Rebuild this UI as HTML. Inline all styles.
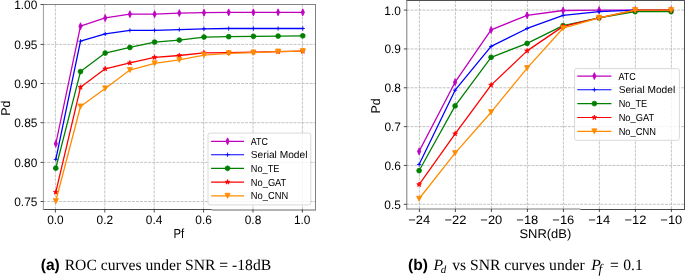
<!DOCTYPE html>
<html><head><meta charset="utf-8"><style>
html,body{margin:0;padding:0;background:#fff;}
body{width:685px;height:276px;overflow:hidden;}
svg{display:block;font-family:"Liberation Sans",sans-serif;text-rendering:geometricPrecision;}
</style></head><body>
<svg width="685" height="276" viewBox="0 0 685 276">
<rect width="685" height="276" fill="#fff"/>
<line x1="55.40" y1="209.50" x2="55.40" y2="4.50" stroke="#b0b0b0" stroke-width="0.75" stroke-dasharray="2.95 1.09"/>
<line x1="104.80" y1="209.50" x2="104.80" y2="4.50" stroke="#b0b0b0" stroke-width="0.75" stroke-dasharray="2.95 1.09"/>
<line x1="154.20" y1="209.50" x2="154.20" y2="4.50" stroke="#b0b0b0" stroke-width="0.75" stroke-dasharray="2.95 1.09"/>
<line x1="203.60" y1="209.50" x2="203.60" y2="4.50" stroke="#b0b0b0" stroke-width="0.75" stroke-dasharray="2.95 1.09"/>
<line x1="253.00" y1="209.50" x2="253.00" y2="4.50" stroke="#b0b0b0" stroke-width="0.75" stroke-dasharray="2.95 1.09"/>
<line x1="302.40" y1="209.50" x2="302.40" y2="4.50" stroke="#b0b0b0" stroke-width="0.75" stroke-dasharray="2.95 1.09"/>
<line x1="43.50" y1="201.50" x2="315.50" y2="201.50" stroke="#b0b0b0" stroke-width="0.75" stroke-dasharray="2.95 1.09" stroke-dashoffset="0.4"/>
<line x1="43.50" y1="162.40" x2="315.50" y2="162.40" stroke="#b0b0b0" stroke-width="0.75" stroke-dasharray="2.95 1.09" stroke-dashoffset="0.4"/>
<line x1="43.50" y1="122.70" x2="315.50" y2="122.70" stroke="#b0b0b0" stroke-width="0.75" stroke-dasharray="2.95 1.09" stroke-dashoffset="0.4"/>
<line x1="43.50" y1="83.50" x2="315.50" y2="83.50" stroke="#b0b0b0" stroke-width="0.75" stroke-dasharray="2.95 1.09" stroke-dashoffset="0.4"/>
<line x1="43.50" y1="44.40" x2="315.50" y2="44.40" stroke="#b0b0b0" stroke-width="0.75" stroke-dasharray="2.95 1.09" stroke-dashoffset="0.4"/>
<clipPath id="cl"><rect x="43.5" y="4.5" width="272.0" height="205.0"/></clipPath>
<g clip-path="url(#cl)">
<polyline points="55.80,143.80 80.50,26.21 105.20,17.97 129.90,14.20 154.60,14.20 179.30,13.10 204.00,12.71 228.70,12.39 253.40,12.39 278.10,12.31 302.80,12.31" fill="none" stroke="#bf00bf" stroke-width="1.3" stroke-linejoin="round" stroke-linecap="square"/>
<path d="M55.80 140.30L57.40 143.80L55.80 147.30L54.20 143.80Z" fill="#bf00bf" stroke="#bf00bf" stroke-width="0.8"/>
<path d="M80.50 22.71L82.10 26.21L80.50 29.71L78.90 26.21Z" fill="#bf00bf" stroke="#bf00bf" stroke-width="0.8"/>
<path d="M105.20 14.47L106.80 17.97L105.20 21.47L103.60 17.97Z" fill="#bf00bf" stroke="#bf00bf" stroke-width="0.8"/>
<path d="M129.90 10.70L131.50 14.20L129.90 17.70L128.30 14.20Z" fill="#bf00bf" stroke="#bf00bf" stroke-width="0.8"/>
<path d="M154.60 10.70L156.20 14.20L154.60 17.70L153.00 14.20Z" fill="#bf00bf" stroke="#bf00bf" stroke-width="0.8"/>
<path d="M179.30 9.60L180.90 13.10L179.30 16.60L177.70 13.10Z" fill="#bf00bf" stroke="#bf00bf" stroke-width="0.8"/>
<path d="M204.00 9.21L205.60 12.71L204.00 16.21L202.40 12.71Z" fill="#bf00bf" stroke="#bf00bf" stroke-width="0.8"/>
<path d="M228.70 8.89L230.30 12.39L228.70 15.89L227.10 12.39Z" fill="#bf00bf" stroke="#bf00bf" stroke-width="0.8"/>
<path d="M253.40 8.89L255.00 12.39L253.40 15.89L251.80 12.39Z" fill="#bf00bf" stroke="#bf00bf" stroke-width="0.8"/>
<path d="M278.10 8.81L279.70 12.31L278.10 15.81L276.50 12.31Z" fill="#bf00bf" stroke="#bf00bf" stroke-width="0.8"/>
<path d="M302.80 8.81L304.40 12.31L302.80 15.81L301.20 12.31Z" fill="#bf00bf" stroke="#bf00bf" stroke-width="0.8"/>
<polyline points="55.80,159.42 80.50,41.20 105.20,33.90 129.90,30.37 154.60,30.37 179.30,29.58 204.00,28.80 228.70,28.49 253.40,28.49 278.10,28.49 302.80,28.49" fill="none" stroke="#0000ff" stroke-width="1.3" stroke-linejoin="round" stroke-linecap="square"/>
<path d="M53.70 159.42H57.90M55.80 157.32V161.52" stroke="#0000ff" stroke-width="0.9" fill="none"/>
<path d="M78.40 41.20H82.60M80.50 39.10V43.30" stroke="#0000ff" stroke-width="0.9" fill="none"/>
<path d="M103.10 33.90H107.30M105.20 31.80V36.00" stroke="#0000ff" stroke-width="0.9" fill="none"/>
<path d="M127.80 30.37H132.00M129.90 28.27V32.47" stroke="#0000ff" stroke-width="0.9" fill="none"/>
<path d="M152.50 30.37H156.70M154.60 28.27V32.47" stroke="#0000ff" stroke-width="0.9" fill="none"/>
<path d="M177.20 29.58H181.40M179.30 27.48V31.68" stroke="#0000ff" stroke-width="0.9" fill="none"/>
<path d="M201.90 28.80H206.10M204.00 26.70V30.90" stroke="#0000ff" stroke-width="0.9" fill="none"/>
<path d="M226.60 28.49H230.80M228.70 26.39V30.59" stroke="#0000ff" stroke-width="0.9" fill="none"/>
<path d="M251.30 28.49H255.50M253.40 26.39V30.59" stroke="#0000ff" stroke-width="0.9" fill="none"/>
<path d="M276.00 28.49H280.20M278.10 26.39V30.59" stroke="#0000ff" stroke-width="0.9" fill="none"/>
<path d="M300.70 28.49H304.90M302.80 26.39V30.59" stroke="#0000ff" stroke-width="0.9" fill="none"/>
<polyline points="55.80,168.14 80.50,71.58 105.20,53.06 129.90,47.48 154.60,42.07 179.30,40.10 204.00,37.04 228.70,36.65 253.40,36.34 278.10,36.10 302.80,35.79" fill="none" stroke="#008000" stroke-width="1.3" stroke-linejoin="round" stroke-linecap="square"/>
<circle cx="55.80" cy="168.14" r="2.4" fill="#008000" stroke="#008000" stroke-width="0.8"/>
<circle cx="80.50" cy="71.58" r="2.4" fill="#008000" stroke="#008000" stroke-width="0.8"/>
<circle cx="105.20" cy="53.06" r="2.4" fill="#008000" stroke="#008000" stroke-width="0.8"/>
<circle cx="129.90" cy="47.48" r="2.4" fill="#008000" stroke="#008000" stroke-width="0.8"/>
<circle cx="154.60" cy="42.07" r="2.4" fill="#008000" stroke="#008000" stroke-width="0.8"/>
<circle cx="179.30" cy="40.10" r="2.4" fill="#008000" stroke="#008000" stroke-width="0.8"/>
<circle cx="204.00" cy="37.04" r="2.4" fill="#008000" stroke="#008000" stroke-width="0.8"/>
<circle cx="228.70" cy="36.65" r="2.4" fill="#008000" stroke="#008000" stroke-width="0.8"/>
<circle cx="253.40" cy="36.34" r="2.4" fill="#008000" stroke="#008000" stroke-width="0.8"/>
<circle cx="278.10" cy="36.10" r="2.4" fill="#008000" stroke="#008000" stroke-width="0.8"/>
<circle cx="302.80" cy="35.79" r="2.4" fill="#008000" stroke="#008000" stroke-width="0.8"/>
<polyline points="55.80,192.24 80.50,87.28 105.20,68.83 129.90,62.95 154.60,57.37 179.30,55.49 204.00,52.90 228.70,52.59 253.40,52.19 278.10,51.57 302.80,51.17" fill="none" stroke="#ff0000" stroke-width="1.3" stroke-linejoin="round" stroke-linecap="square"/>
<path d="M55.80 189.74L55.24 191.46L53.42 191.46L54.89 192.53L54.33 194.26L55.80 193.19L57.27 194.26L56.71 192.53L58.18 191.46L56.36 191.46Z" fill="#ff0000" stroke="#ff0000" stroke-width="0.8" stroke-linejoin="miter"/>
<path d="M80.50 84.78L79.94 86.51L78.12 86.51L79.59 87.58L79.03 89.31L80.50 88.24L81.97 89.31L81.41 87.58L82.88 86.51L81.06 86.51Z" fill="#ff0000" stroke="#ff0000" stroke-width="0.8" stroke-linejoin="miter"/>
<path d="M105.20 66.33L104.64 68.06L102.82 68.06L104.29 69.13L103.73 70.86L105.20 69.79L106.67 70.86L106.11 69.13L107.58 68.06L105.76 68.06Z" fill="#ff0000" stroke="#ff0000" stroke-width="0.8" stroke-linejoin="miter"/>
<path d="M129.90 60.45L129.34 62.17L127.52 62.17L128.99 63.24L128.43 64.97L129.90 63.90L131.37 64.97L130.81 63.24L132.28 62.17L130.46 62.17Z" fill="#ff0000" stroke="#ff0000" stroke-width="0.8" stroke-linejoin="miter"/>
<path d="M154.60 54.87L154.04 56.60L152.22 56.60L153.69 57.67L153.13 59.40L154.60 58.33L156.07 59.40L155.51 57.67L156.98 56.60L155.16 56.60Z" fill="#ff0000" stroke="#ff0000" stroke-width="0.8" stroke-linejoin="miter"/>
<path d="M179.30 52.99L178.74 54.72L176.92 54.72L178.39 55.79L177.83 57.51L179.30 56.44L180.77 57.51L180.21 55.79L181.68 54.72L179.86 54.72Z" fill="#ff0000" stroke="#ff0000" stroke-width="0.8" stroke-linejoin="miter"/>
<path d="M204.00 50.40L203.44 52.13L201.62 52.13L203.09 53.19L202.53 54.92L204.00 53.85L205.47 54.92L204.91 53.19L206.38 52.13L204.56 52.13Z" fill="#ff0000" stroke="#ff0000" stroke-width="0.8" stroke-linejoin="miter"/>
<path d="M228.70 50.09L228.14 51.81L226.32 51.81L227.79 52.88L227.23 54.61L228.70 53.54L230.17 54.61L229.61 52.88L231.08 51.81L229.26 51.81Z" fill="#ff0000" stroke="#ff0000" stroke-width="0.8" stroke-linejoin="miter"/>
<path d="M253.40 49.69L252.84 51.42L251.02 51.42L252.49 52.49L251.93 54.22L253.40 53.15L254.87 54.22L254.31 52.49L255.78 51.42L253.96 51.42Z" fill="#ff0000" stroke="#ff0000" stroke-width="0.8" stroke-linejoin="miter"/>
<path d="M278.10 49.07L277.54 50.79L275.72 50.79L277.19 51.86L276.63 53.59L278.10 52.52L279.57 53.59L279.01 51.86L280.48 50.79L278.66 50.79Z" fill="#ff0000" stroke="#ff0000" stroke-width="0.8" stroke-linejoin="miter"/>
<path d="M302.80 48.67L302.24 50.40L300.42 50.40L301.89 51.47L301.33 53.20L302.80 52.13L304.27 53.20L303.71 51.47L305.18 50.40L303.36 50.40Z" fill="#ff0000" stroke="#ff0000" stroke-width="0.8" stroke-linejoin="miter"/>
<polyline points="55.80,201.19 80.50,106.51 105.20,88.46 129.90,70.01 154.60,63.34 179.30,59.89 204.00,55.10 228.70,53.37 253.40,52.59 278.10,51.57 302.80,51.17" fill="none" stroke="#ff8c00" stroke-width="1.3" stroke-linejoin="round" stroke-linecap="square"/>
<path d="M55.80 203.74L53.25 198.64L58.35 198.64Z" fill="#ff8c00" stroke="#ff8c00" stroke-width="0.8" stroke-linejoin="miter"/>
<path d="M80.50 109.06L77.95 103.96L83.05 103.96Z" fill="#ff8c00" stroke="#ff8c00" stroke-width="0.8" stroke-linejoin="miter"/>
<path d="M105.20 91.01L102.65 85.91L107.75 85.91Z" fill="#ff8c00" stroke="#ff8c00" stroke-width="0.8" stroke-linejoin="miter"/>
<path d="M129.90 72.56L127.35 67.46L132.45 67.46Z" fill="#ff8c00" stroke="#ff8c00" stroke-width="0.8" stroke-linejoin="miter"/>
<path d="M154.60 65.89L152.05 60.79L157.15 60.79Z" fill="#ff8c00" stroke="#ff8c00" stroke-width="0.8" stroke-linejoin="miter"/>
<path d="M179.30 62.44L176.75 57.34L181.85 57.34Z" fill="#ff8c00" stroke="#ff8c00" stroke-width="0.8" stroke-linejoin="miter"/>
<path d="M204.00 57.65L201.45 52.55L206.55 52.55Z" fill="#ff8c00" stroke="#ff8c00" stroke-width="0.8" stroke-linejoin="miter"/>
<path d="M228.70 55.92L226.15 50.82L231.25 50.82Z" fill="#ff8c00" stroke="#ff8c00" stroke-width="0.8" stroke-linejoin="miter"/>
<path d="M253.40 55.14L250.85 50.04L255.95 50.04Z" fill="#ff8c00" stroke="#ff8c00" stroke-width="0.8" stroke-linejoin="miter"/>
<path d="M278.10 54.12L275.55 49.02L280.65 49.02Z" fill="#ff8c00" stroke="#ff8c00" stroke-width="0.8" stroke-linejoin="miter"/>
<path d="M302.80 53.72L300.25 48.62L305.35 48.62Z" fill="#ff8c00" stroke="#ff8c00" stroke-width="0.8" stroke-linejoin="miter"/>
</g>
<line x1="42.90" y1="4.5" x2="316.00" y2="4.5" stroke="#828282" stroke-width="1"/>
<line x1="42.90" y1="209.5" x2="211.70" y2="209.5" stroke="#4a4a4a" stroke-width="1"/>
<line x1="211.70" y1="210.0" x2="316.00" y2="210.0" stroke="#666666" stroke-width="1"/>
<line x1="43.4" y1="4.00" x2="43.4" y2="210.00" stroke="#9a9a9a" stroke-width="1"/>
<line x1="315.5" y1="4.00" x2="315.5" y2="210.00" stroke="#828282" stroke-width="1"/>
<line x1="55.40" y1="209.50" x2="55.40" y2="212.50" stroke="#222" stroke-width="0.8"/>
<line x1="104.80" y1="209.50" x2="104.80" y2="212.50" stroke="#222" stroke-width="0.8"/>
<line x1="154.20" y1="209.50" x2="154.20" y2="212.50" stroke="#222" stroke-width="0.8"/>
<line x1="203.60" y1="209.50" x2="203.60" y2="212.50" stroke="#222" stroke-width="0.8"/>
<line x1="253.00" y1="209.50" x2="253.00" y2="212.50" stroke="#222" stroke-width="0.8"/>
<line x1="302.40" y1="209.50" x2="302.40" y2="212.50" stroke="#222" stroke-width="0.8"/>
<line x1="40.50" y1="201.50" x2="43.50" y2="201.50" stroke="#222" stroke-width="0.8"/>
<line x1="40.50" y1="162.40" x2="43.50" y2="162.40" stroke="#222" stroke-width="0.8"/>
<line x1="40.50" y1="122.70" x2="43.50" y2="122.70" stroke="#222" stroke-width="0.8"/>
<line x1="40.50" y1="83.50" x2="43.50" y2="83.50" stroke="#222" stroke-width="0.8"/>
<line x1="40.50" y1="44.40" x2="43.50" y2="44.40" stroke="#222" stroke-width="0.8"/>
<line x1="40.50" y1="4.50" x2="43.50" y2="4.50" stroke="#222" stroke-width="0.8"/>
<rect x="208.00" y="133.10" width="102.80" height="71.80" rx="2" ry="2" fill="#fff" fill-opacity="0.8" stroke="#cccccc" stroke-width="0.75"/>
<line x1="211.10" y1="141.30" x2="244.00" y2="141.30" stroke="#bf00bf" stroke-width="1.15"/>
<path d="M227.55 137.80L229.15 141.30L227.55 144.80L225.95 141.30Z" fill="#bf00bf" stroke="#bf00bf" stroke-width="0.8"/>
<line x1="211.10" y1="154.70" x2="244.00" y2="154.70" stroke="#0000ff" stroke-width="1.15"/>
<path d="M225.45 154.70H229.65M227.55 152.60V156.80" stroke="#0000ff" stroke-width="0.9" fill="none"/>
<line x1="211.10" y1="168.30" x2="244.00" y2="168.30" stroke="#008000" stroke-width="1.15"/>
<circle cx="227.55" cy="168.30" r="2.4" fill="#008000" stroke="#008000" stroke-width="0.8"/>
<line x1="211.10" y1="182.10" x2="244.00" y2="182.10" stroke="#ff0000" stroke-width="1.15"/>
<path d="M227.55 179.60L226.99 181.33L225.17 181.33L226.64 182.40L226.08 184.12L227.55 183.05L229.02 184.12L228.46 182.40L229.93 181.33L228.11 181.33Z" fill="#ff0000" stroke="#ff0000" stroke-width="0.8" stroke-linejoin="miter"/>
<line x1="211.10" y1="195.80" x2="244.00" y2="195.80" stroke="#ff8c00" stroke-width="1.15"/>
<path d="M227.55 198.35L225.00 193.25L230.10 193.25Z" fill="#ff8c00" stroke="#ff8c00" stroke-width="0.8" stroke-linejoin="miter"/>
<line x1="419.40" y1="209.00" x2="419.40" y2="0.50" stroke="#b0b0b0" stroke-width="0.75" stroke-dasharray="2.95 1.09"/>
<line x1="455.40" y1="209.00" x2="455.40" y2="0.50" stroke="#b0b0b0" stroke-width="0.75" stroke-dasharray="2.95 1.09"/>
<line x1="491.40" y1="209.00" x2="491.40" y2="0.50" stroke="#b0b0b0" stroke-width="0.75" stroke-dasharray="2.95 1.09"/>
<line x1="527.40" y1="209.00" x2="527.40" y2="0.50" stroke="#b0b0b0" stroke-width="0.75" stroke-dasharray="2.95 1.09"/>
<line x1="563.40" y1="209.00" x2="563.40" y2="0.50" stroke="#b0b0b0" stroke-width="0.75" stroke-dasharray="2.95 1.09"/>
<line x1="599.40" y1="209.00" x2="599.40" y2="0.50" stroke="#b0b0b0" stroke-width="0.75" stroke-dasharray="2.95 1.09"/>
<line x1="635.40" y1="209.00" x2="635.40" y2="0.50" stroke="#b0b0b0" stroke-width="0.75" stroke-dasharray="2.95 1.09"/>
<line x1="671.40" y1="209.00" x2="671.40" y2="0.50" stroke="#b0b0b0" stroke-width="0.75" stroke-dasharray="2.95 1.09"/>
<line x1="406.80" y1="204.30" x2="684.50" y2="204.30" stroke="#b0b0b0" stroke-width="0.75" stroke-dasharray="2.95 1.09" stroke-dashoffset="0.4"/>
<line x1="406.80" y1="165.46" x2="684.50" y2="165.46" stroke="#b0b0b0" stroke-width="0.75" stroke-dasharray="2.95 1.09" stroke-dashoffset="0.4"/>
<line x1="406.80" y1="126.62" x2="684.50" y2="126.62" stroke="#b0b0b0" stroke-width="0.75" stroke-dasharray="2.95 1.09" stroke-dashoffset="0.4"/>
<line x1="406.80" y1="87.78" x2="684.50" y2="87.78" stroke="#b0b0b0" stroke-width="0.75" stroke-dasharray="2.95 1.09" stroke-dashoffset="0.4"/>
<line x1="406.80" y1="48.94" x2="684.50" y2="48.94" stroke="#b0b0b0" stroke-width="0.75" stroke-dasharray="2.95 1.09" stroke-dashoffset="0.4"/>
<line x1="406.80" y1="10.10" x2="684.50" y2="10.10" stroke="#b0b0b0" stroke-width="0.75" stroke-dasharray="2.95 1.09" stroke-dashoffset="0.4"/>
<clipPath id="cr"><rect x="406.8" y="0.5" width="277.7" height="208.5"/></clipPath>
<g clip-path="url(#cr)">
<polyline points="419.10,151.40 455.10,82.19 491.10,29.90 527.10,15.30 563.10,10.49 599.10,10.10 635.10,10.10 671.10,10.10" fill="none" stroke="#bf00bf" stroke-width="1.3" stroke-linejoin="round" stroke-linecap="square"/>
<path d="M419.10 147.90L420.70 151.40L419.10 154.90L417.50 151.40Z" fill="#bf00bf" stroke="#bf00bf" stroke-width="0.8"/>
<path d="M455.10 78.69L456.70 82.19L455.10 85.69L453.50 82.19Z" fill="#bf00bf" stroke="#bf00bf" stroke-width="0.8"/>
<path d="M491.10 26.40L492.70 29.90L491.10 33.40L489.50 29.90Z" fill="#bf00bf" stroke="#bf00bf" stroke-width="0.8"/>
<path d="M527.10 11.80L528.70 15.30L527.10 18.80L525.50 15.30Z" fill="#bf00bf" stroke="#bf00bf" stroke-width="0.8"/>
<path d="M563.10 6.99L564.70 10.49L563.10 13.99L561.50 10.49Z" fill="#bf00bf" stroke="#bf00bf" stroke-width="0.8"/>
<path d="M599.10 6.60L600.70 10.10L599.10 13.60L597.50 10.10Z" fill="#bf00bf" stroke="#bf00bf" stroke-width="0.8"/>
<path d="M635.10 6.60L636.70 10.10L635.10 13.60L633.50 10.10Z" fill="#bf00bf" stroke="#bf00bf" stroke-width="0.8"/>
<path d="M671.10 6.60L672.70 10.10L671.10 13.60L669.50 10.10Z" fill="#bf00bf" stroke="#bf00bf" stroke-width="0.8"/>
<polyline points="419.10,164.49 455.10,90.19 491.10,46.40 527.10,28.46 563.10,15.30 599.10,11.65 635.10,10.10 671.10,10.10" fill="none" stroke="#0000ff" stroke-width="1.3" stroke-linejoin="round" stroke-linecap="square"/>
<path d="M417.00 164.49H421.20M419.10 162.39V166.59" stroke="#0000ff" stroke-width="0.9" fill="none"/>
<path d="M453.00 90.19H457.20M455.10 88.09V92.29" stroke="#0000ff" stroke-width="0.9" fill="none"/>
<path d="M489.00 46.40H493.20M491.10 44.30V48.50" stroke="#0000ff" stroke-width="0.9" fill="none"/>
<path d="M525.00 28.46H529.20M527.10 26.36V30.56" stroke="#0000ff" stroke-width="0.9" fill="none"/>
<path d="M561.00 15.30H565.20M563.10 13.20V17.40" stroke="#0000ff" stroke-width="0.9" fill="none"/>
<path d="M597.00 11.65H601.20M599.10 9.55V13.75" stroke="#0000ff" stroke-width="0.9" fill="none"/>
<path d="M633.00 10.10H637.20M635.10 8.00V12.20" stroke="#0000ff" stroke-width="0.9" fill="none"/>
<path d="M669.00 10.10H673.20M671.10 8.00V12.20" stroke="#0000ff" stroke-width="0.9" fill="none"/>
<polyline points="419.10,170.70 455.10,105.91 491.10,57.31 527.10,43.41 563.10,25.63 599.10,17.86 635.10,11.65 671.10,11.65" fill="none" stroke="#008000" stroke-width="1.3" stroke-linejoin="round" stroke-linecap="square"/>
<circle cx="419.10" cy="170.70" r="2.4" fill="#008000" stroke="#008000" stroke-width="0.8"/>
<circle cx="455.10" cy="105.91" r="2.4" fill="#008000" stroke="#008000" stroke-width="0.8"/>
<circle cx="491.10" cy="57.31" r="2.4" fill="#008000" stroke="#008000" stroke-width="0.8"/>
<circle cx="527.10" cy="43.41" r="2.4" fill="#008000" stroke="#008000" stroke-width="0.8"/>
<circle cx="563.10" cy="25.63" r="2.4" fill="#008000" stroke="#008000" stroke-width="0.8"/>
<circle cx="599.10" cy="17.86" r="2.4" fill="#008000" stroke="#008000" stroke-width="0.8"/>
<circle cx="635.10" cy="11.65" r="2.4" fill="#008000" stroke="#008000" stroke-width="0.8"/>
<circle cx="671.10" cy="11.65" r="2.4" fill="#008000" stroke="#008000" stroke-width="0.8"/>
<polyline points="419.10,184.52 455.10,133.82 491.10,85.10 527.10,50.90 563.10,26.40 599.10,17.86 635.10,10.10 671.10,10.10" fill="none" stroke="#ff0000" stroke-width="1.3" stroke-linejoin="round" stroke-linecap="square"/>
<path d="M419.10 182.02L418.54 183.75L416.72 183.75L418.19 184.81L417.63 186.54L419.10 185.47L420.57 186.54L420.01 184.81L421.48 183.75L419.66 183.75Z" fill="#ff0000" stroke="#ff0000" stroke-width="0.8" stroke-linejoin="miter"/>
<path d="M455.10 131.32L454.54 133.05L452.72 133.05L454.19 134.11L453.63 135.84L455.10 134.77L456.57 135.84L456.01 134.11L457.48 133.05L455.66 133.05Z" fill="#ff0000" stroke="#ff0000" stroke-width="0.8" stroke-linejoin="miter"/>
<path d="M491.10 82.60L490.54 84.33L488.72 84.33L490.19 85.40L489.63 87.12L491.10 86.06L492.57 87.12L492.01 85.40L493.48 84.33L491.66 84.33Z" fill="#ff0000" stroke="#ff0000" stroke-width="0.8" stroke-linejoin="miter"/>
<path d="M527.10 48.40L526.54 50.13L524.72 50.13L526.19 51.19L525.63 52.92L527.10 51.85L528.57 52.92L528.01 51.19L529.48 50.13L527.66 50.13Z" fill="#ff0000" stroke="#ff0000" stroke-width="0.8" stroke-linejoin="miter"/>
<path d="M563.10 23.90L562.54 25.63L560.72 25.63L562.19 26.70L561.63 28.43L563.10 27.36L564.57 28.43L564.01 26.70L565.48 25.63L563.66 25.63Z" fill="#ff0000" stroke="#ff0000" stroke-width="0.8" stroke-linejoin="miter"/>
<path d="M599.10 15.36L598.54 17.09L596.72 17.09L598.19 18.16L597.63 19.89L599.10 18.82L600.57 19.89L600.01 18.16L601.48 17.09L599.66 17.09Z" fill="#ff0000" stroke="#ff0000" stroke-width="0.8" stroke-linejoin="miter"/>
<path d="M635.10 7.60L634.54 9.33L632.72 9.33L634.19 10.40L633.63 12.12L635.10 11.05L636.57 12.12L636.01 10.40L637.48 9.33L635.66 9.33Z" fill="#ff0000" stroke="#ff0000" stroke-width="0.8" stroke-linejoin="miter"/>
<path d="M671.10 7.60L670.54 9.33L668.72 9.33L670.19 10.40L669.63 12.12L671.10 11.05L672.57 12.12L672.01 10.40L673.48 9.33L671.66 9.33Z" fill="#ff0000" stroke="#ff0000" stroke-width="0.8" stroke-linejoin="miter"/>
<polyline points="419.10,198.77 455.10,153.19 491.10,112.20 527.10,68.14 563.10,28.19 599.10,17.86 635.10,10.10 671.10,10.10" fill="none" stroke="#ff8c00" stroke-width="1.3" stroke-linejoin="round" stroke-linecap="square"/>
<path d="M419.10 201.32L416.55 196.22L421.65 196.22Z" fill="#ff8c00" stroke="#ff8c00" stroke-width="0.8" stroke-linejoin="miter"/>
<path d="M455.10 155.74L452.55 150.64L457.65 150.64Z" fill="#ff8c00" stroke="#ff8c00" stroke-width="0.8" stroke-linejoin="miter"/>
<path d="M491.10 114.75L488.55 109.65L493.65 109.65Z" fill="#ff8c00" stroke="#ff8c00" stroke-width="0.8" stroke-linejoin="miter"/>
<path d="M527.10 70.69L524.55 65.59L529.65 65.59Z" fill="#ff8c00" stroke="#ff8c00" stroke-width="0.8" stroke-linejoin="miter"/>
<path d="M563.10 30.74L560.55 25.64L565.65 25.64Z" fill="#ff8c00" stroke="#ff8c00" stroke-width="0.8" stroke-linejoin="miter"/>
<path d="M599.10 20.41L596.55 15.31L601.65 15.31Z" fill="#ff8c00" stroke="#ff8c00" stroke-width="0.8" stroke-linejoin="miter"/>
<path d="M635.10 12.65L632.55 7.55L637.65 7.55Z" fill="#ff8c00" stroke="#ff8c00" stroke-width="0.8" stroke-linejoin="miter"/>
<path d="M671.10 12.65L668.55 7.55L673.65 7.55Z" fill="#ff8c00" stroke="#ff8c00" stroke-width="0.8" stroke-linejoin="miter"/>
</g>
<line x1="406.30" y1="0.5" x2="685.00" y2="0.5" stroke="#505050" stroke-width="1"/>
<line x1="406.30" y1="209.0" x2="580.40" y2="209.0" stroke="#7a7a7a" stroke-width="1"/>
<line x1="580.40" y1="209.5" x2="685.00" y2="209.5" stroke="#4a4a4a" stroke-width="1"/>
<line x1="406.8" y1="0.00" x2="406.8" y2="209.50" stroke="#7a7a7a" stroke-width="1"/>
<line x1="684.5" y1="0.00" x2="684.5" y2="209.50" stroke="#505050" stroke-width="1"/>
<line x1="419.40" y1="209.00" x2="419.40" y2="212.00" stroke="#222" stroke-width="0.8"/>
<line x1="455.40" y1="209.00" x2="455.40" y2="212.00" stroke="#222" stroke-width="0.8"/>
<line x1="491.40" y1="209.00" x2="491.40" y2="212.00" stroke="#222" stroke-width="0.8"/>
<line x1="527.40" y1="209.00" x2="527.40" y2="212.00" stroke="#222" stroke-width="0.8"/>
<line x1="563.40" y1="209.00" x2="563.40" y2="212.00" stroke="#222" stroke-width="0.8"/>
<line x1="599.40" y1="209.00" x2="599.40" y2="212.00" stroke="#222" stroke-width="0.8"/>
<line x1="635.40" y1="209.00" x2="635.40" y2="212.00" stroke="#222" stroke-width="0.8"/>
<line x1="671.40" y1="209.00" x2="671.40" y2="212.00" stroke="#222" stroke-width="0.8"/>
<line x1="403.80" y1="204.30" x2="406.80" y2="204.30" stroke="#222" stroke-width="0.8"/>
<line x1="403.80" y1="165.46" x2="406.80" y2="165.46" stroke="#222" stroke-width="0.8"/>
<line x1="403.80" y1="126.62" x2="406.80" y2="126.62" stroke="#222" stroke-width="0.8"/>
<line x1="403.80" y1="87.78" x2="406.80" y2="87.78" stroke="#222" stroke-width="0.8"/>
<line x1="403.80" y1="48.94" x2="406.80" y2="48.94" stroke="#222" stroke-width="0.8"/>
<line x1="403.80" y1="10.10" x2="406.80" y2="10.10" stroke="#222" stroke-width="0.8"/>
<rect x="574.60" y="68.60" width="104.80" height="71.70" rx="2" ry="2" fill="#fff" fill-opacity="0.8" stroke="#cccccc" stroke-width="0.75"/>
<line x1="577.30" y1="76.10" x2="611.40" y2="76.10" stroke="#bf00bf" stroke-width="1.15"/>
<path d="M594.35 72.60L595.95 76.10L594.35 79.60L592.75 76.10Z" fill="#bf00bf" stroke="#bf00bf" stroke-width="0.8"/>
<line x1="577.30" y1="89.70" x2="611.40" y2="89.70" stroke="#0000ff" stroke-width="1.15"/>
<path d="M592.25 89.70H596.45M594.35 87.60V91.80" stroke="#0000ff" stroke-width="0.9" fill="none"/>
<line x1="577.30" y1="103.60" x2="611.40" y2="103.60" stroke="#008000" stroke-width="1.15"/>
<circle cx="594.35" cy="103.60" r="2.4" fill="#008000" stroke="#008000" stroke-width="0.8"/>
<line x1="577.30" y1="117.50" x2="611.40" y2="117.50" stroke="#ff0000" stroke-width="1.15"/>
<path d="M594.35 115.00L593.79 116.73L591.97 116.73L593.44 117.80L592.88 119.52L594.35 118.45L595.82 119.52L595.26 117.80L596.73 116.73L594.91 116.73Z" fill="#ff0000" stroke="#ff0000" stroke-width="0.8" stroke-linejoin="miter"/>
<line x1="577.30" y1="131.40" x2="611.40" y2="131.40" stroke="#ff8c00" stroke-width="1.15"/>
<path d="M594.35 133.95L591.80 128.85L596.90 128.85Z" fill="#ff8c00" stroke="#ff8c00" stroke-width="0.8" stroke-linejoin="miter"/>
<g style="filter:grayscale(1)">
<text x="47.13" y="223.50" font-size="12.19" textLength="16.54" lengthAdjust="spacingAndGlyphs" fill="#000" >0.0</text>
<text x="96.60" y="223.50" font-size="12.19" textLength="16.54" lengthAdjust="spacingAndGlyphs" fill="#000" >0.2</text>
<text x="145.87" y="223.50" font-size="12.19" textLength="16.54" lengthAdjust="spacingAndGlyphs" fill="#000" >0.4</text>
<text x="195.36" y="223.50" font-size="12.19" textLength="16.54" lengthAdjust="spacingAndGlyphs" fill="#000" >0.6</text>
<text x="244.76" y="223.50" font-size="12.19" textLength="16.54" lengthAdjust="spacingAndGlyphs" fill="#000" >0.8</text>
<text x="293.91" y="223.50" font-size="12.19" textLength="16.54" lengthAdjust="spacingAndGlyphs" fill="#000" >1.0</text>
<text x="14.24" y="205.80" font-size="12.19" textLength="23.16" lengthAdjust="spacingAndGlyphs" fill="#000" >0.75</text>
<text x="14.21" y="166.70" font-size="12.19" textLength="23.16" lengthAdjust="spacingAndGlyphs" fill="#000" >0.80</text>
<text x="14.24" y="127.00" font-size="12.19" textLength="23.16" lengthAdjust="spacingAndGlyphs" fill="#000" >0.85</text>
<text x="14.21" y="87.80" font-size="12.19" textLength="23.16" lengthAdjust="spacingAndGlyphs" fill="#000" >0.90</text>
<text x="14.24" y="48.70" font-size="12.19" textLength="23.16" lengthAdjust="spacingAndGlyphs" fill="#000" >0.95</text>
<text x="14.21" y="8.80" font-size="12.19" textLength="23.16" lengthAdjust="spacingAndGlyphs" fill="#000" >1.00</text>
<text x="173.60" y="238.20" font-size="13.25" textLength="10.65" lengthAdjust="spacingAndGlyphs" fill="#000" >Pf</text>
<text transform="translate(9.7,108.10) rotate(-90)" x="-7.61" y="0" font-size="12.72" textLength="15.22" lengthAdjust="spacingAndGlyphs">Pd</text>
<text x="250.76" y="144.90" font-size="10.18" textLength="17.08" lengthAdjust="spacingAndGlyphs" fill="#000" >ATC</text>
<text x="250.84" y="158.30" font-size="10.18" textLength="56.58" lengthAdjust="spacingAndGlyphs" fill="#000" >Serial Model</text>
<text x="250.85" y="171.90" font-size="10.18" textLength="28.54" lengthAdjust="spacingAndGlyphs" fill="#000" >No_TE</text>
<text x="250.86" y="185.70" font-size="10.18" textLength="35.44" lengthAdjust="spacingAndGlyphs" fill="#000" >No_GAT</text>
<text x="250.84" y="199.40" font-size="10.18" textLength="37.30" lengthAdjust="spacingAndGlyphs" fill="#000" >No_CNN</text>
<text x="408.30" y="223.50" font-size="12.19" textLength="21.95" lengthAdjust="spacingAndGlyphs" fill="#000" >−24</text>
<text x="444.43" y="223.50" font-size="12.19" textLength="21.95" lengthAdjust="spacingAndGlyphs" fill="#000" >−22</text>
<text x="480.36" y="223.50" font-size="12.19" textLength="21.95" lengthAdjust="spacingAndGlyphs" fill="#000" >−20</text>
<text x="516.39" y="223.50" font-size="12.19" textLength="21.95" lengthAdjust="spacingAndGlyphs" fill="#000" >−18</text>
<text x="552.39" y="223.50" font-size="12.19" textLength="21.95" lengthAdjust="spacingAndGlyphs" fill="#000" >−16</text>
<text x="588.30" y="223.50" font-size="12.19" textLength="21.95" lengthAdjust="spacingAndGlyphs" fill="#000" >−14</text>
<text x="624.43" y="223.50" font-size="12.19" textLength="21.95" lengthAdjust="spacingAndGlyphs" fill="#000" >−12</text>
<text x="660.36" y="223.50" font-size="12.19" textLength="21.95" lengthAdjust="spacingAndGlyphs" fill="#000" >−10</text>
<text x="384.36" y="208.80" font-size="12.19" textLength="16.54" lengthAdjust="spacingAndGlyphs" fill="#000" >0.5</text>
<text x="384.38" y="169.96" font-size="12.19" textLength="16.54" lengthAdjust="spacingAndGlyphs" fill="#000" >0.6</text>
<text x="384.46" y="131.12" font-size="12.19" textLength="16.54" lengthAdjust="spacingAndGlyphs" fill="#000" >0.7</text>
<text x="384.38" y="92.28" font-size="12.19" textLength="16.54" lengthAdjust="spacingAndGlyphs" fill="#000" >0.8</text>
<text x="384.42" y="53.44" font-size="12.19" textLength="16.54" lengthAdjust="spacingAndGlyphs" fill="#000" >0.9</text>
<text x="384.33" y="14.60" font-size="12.19" textLength="16.54" lengthAdjust="spacingAndGlyphs" fill="#000" >1.0</text>
<text x="519.40" y="237.80" font-size="12.61" textLength="51.82" lengthAdjust="spacingAndGlyphs" fill="#000" >SNR(dB)</text>
<text transform="translate(379.7,105.85) rotate(-90)" x="-7.61" y="0" font-size="12.72" textLength="15.22" lengthAdjust="spacingAndGlyphs">Pd</text>
<text x="618.56" y="79.70" font-size="10.18" textLength="17.08" lengthAdjust="spacingAndGlyphs" fill="#000" >ATC</text>
<text x="618.64" y="93.30" font-size="10.18" textLength="56.58" lengthAdjust="spacingAndGlyphs" fill="#000" >Serial Model</text>
<text x="618.65" y="107.20" font-size="10.18" textLength="28.54" lengthAdjust="spacingAndGlyphs" fill="#000" >No_TE</text>
<text x="618.66" y="121.10" font-size="10.18" textLength="35.44" lengthAdjust="spacingAndGlyphs" fill="#000" >No_GAT</text>
<text x="618.64" y="135.00" font-size="10.18" textLength="37.30" lengthAdjust="spacingAndGlyphs" fill="#000" >No_CNN</text>
<text x="40.70" y="270.00" font-family="Liberation Sans" font-size="15.6" font-weight="bold">(a)</text>
<text x="64.70" y="270.10" font-family="Liberation Serif" font-size="15.65" >ROC curves under SNR = -18dB</text>
<text x="408.10" y="270.00" font-family="Liberation Sans" font-size="15.6" font-weight="bold">(b)</text>
<text x="433.60" y="270.10" font-family="Liberation Serif" font-size="15.65" font-style="italic">P</text>
<text x="440.80" y="272.90" font-family="Liberation Serif" font-size="11" font-style="italic">d</text>
<text x="452.20" y="270.10" font-family="Liberation Serif" font-size="15.65" >vs SNR curves under</text>
<text x="591.20" y="270.10" font-family="Liberation Serif" font-size="15.65" font-style="italic">P</text>
<text x="598.40" y="272.90" font-family="Liberation Serif" font-size="13" font-style="italic">f</text>
<text x="609.90" y="270.10" font-family="Liberation Serif" font-size="15.65" >=</text>
<text x="623.30" y="270.10" font-family="Liberation Serif" font-size="15.65" >0.1</text>
</g>
</svg>
</body></html>
